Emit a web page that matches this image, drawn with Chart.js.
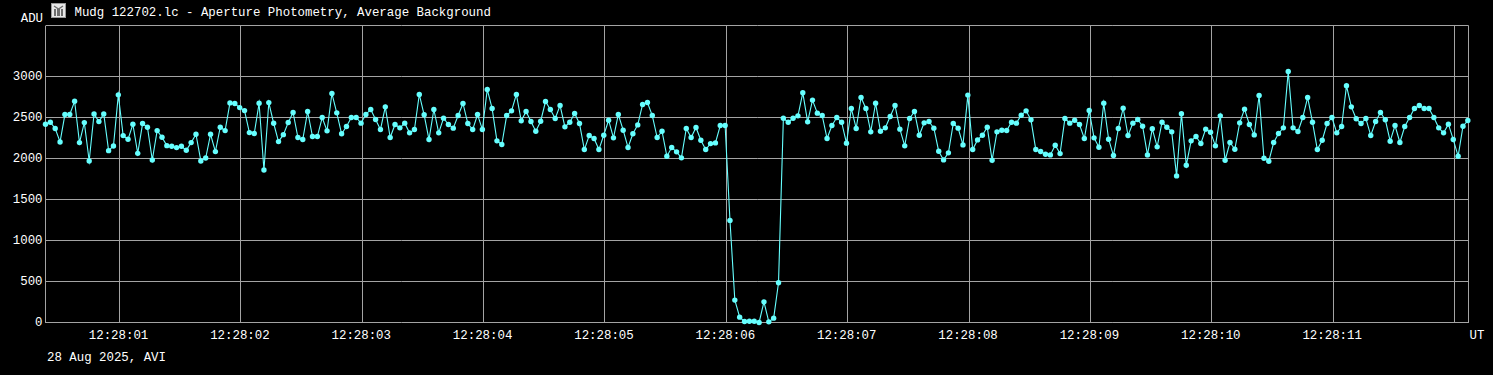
<!DOCTYPE html>
<html>
<head>
<meta charset="utf-8">
<style>html,body{margin:0;padding:0;background:#000;overflow:hidden}canvas{display:block}</style>
<script src="https://cdn.jsdelivr.net/npm/chart.js@4"></script>
</head>
<body>
<canvas id="c" width="1493" height="375"></canvas>
<script>
const titleText = "Mudg 122702.lc - Aperture Photometry, Average Background";
const yUnit = "ADU";
const xUnit = "UT";
const footer = "28 Aug 2025, AVI";
const timePrefix = "12:28:";
const startSecond = 0.39;
const endSecond = 12.1154;
const frameSeconds = 0.04;
const yMax = 3622;
const yTicks = [0, 500, 1000, 1500, 2000, 2500, 3000];
const xTicks = [1, 2, 3, 4, 5, 6, 7, 8, 9, 10, 11, 12];
const xLabelled = [1, 2, 3, 4, 5, 6, 7, 8, 9, 10, 11];
const adu = [
2418,2442,2365,2202,2536,2536,2698,2194,2438,1970,2544,2450,2544,2096,2153,2776,2279,2234,2418,2063,
2426,2381,1982,2340,2259,2157,2149,2133,2149,2100,2194,2295,1970,2006,2295,2084,2381,2340,2678,2670,
2621,2584,2316,2304,2674,1860,2682,2430,2206,2291,2439,2561,2256,2231,2573,2268,2268,2500,2337,2793,
2557,2301,2390,2500,2500,2431,2537,2598,2476,2353,2630,2256,2415,2374,2431,2313,2353,2781,2533,2231,
2598,2313,2492,2415,2370,2524,2671,2427,2353,2537,2353,2842,2610,2215,2170,2524,2581,2781,2459,2573,
2451,2333,2455,2695,2598,2488,2646,2386,2443,2549,2427,2109,2280,2244,2109,2284,2467,2252,2537,2345,
2134,2301,2410,2659,2683,2524,2256,2333,2028,2134,2081,2008,2366,2256,2378,2223,2109,2182,2190,2402,
2402,1245,273,65,12,16,16,0,252,8,53,484,2491,2443,2491,2520,2801,2447,2712,2553,
2524,2244,2402,2500,2443,2187,2610,2366,2744,2610,2325,2675,2333,2374,2512,2646,2358,2154,2488,2573,
2284,2435,2451,2370,2089,1983,2069,2427,2370,2166,2773,2109,2227,2284,2382,1979,2325,2345,2341,2443,
2431,2528,2581,2472,2109,2085,2052,2044,2162,2060,2488,2431,2467,2415,2244,2585,2252,2138,2675,2235,
2036,2366,2614,2280,2431,2476,2394,2044,2362,2142,2443,2382,2325,1788,2545,1918,2215,2268,2183,2358,
2321,2154,2520,1979,2195,2113,2435,2602,2415,2288,2769,2003,1967,2195,2305,2374,3062,2374,2329,2500,
2744,2443,2109,2223,2427,2500,2313,2390,2887,2630,2484,2427,2488,2280,2451,2561,2472,2211,2402,2195,
2390,2500,2610,2646,2610,2610,2500,2374,2313,2419,2231,2028,2394,2463
];

const FONT = '"Liberation Mono", monospace';
const FONT_SIZE = 12.4;
const TEXT = '#ffffff';
const GRID = '#a4a4a4';
const CYAN = '#66ffff';

const pad2 = n => String(n).padStart(2, '0');

const overlay = {
  id: 'overlay',
  afterDraw(chart) {
    const { ctx } = chart;
    ctx.save();
    ctx.fillStyle = TEXT;
    ctx.textBaseline = 'middle';
    ctx.font = FONT_SIZE + 'px ' + FONT;
    ctx.textAlign = 'left';
    ctx.fillText(titleText, 74.5, 12.5);
    ctx.fillText(footer, 47, 357.5);
    ctx.fillText(xUnit, 1469.5, 335.5);
    ctx.textAlign = 'right';
    ctx.fillText(yUnit, 43, 18.5);
    // window icon
    ctx.fillStyle = '#e8e8e8';
    ctx.fillRect(51, 3, 15, 15);
    ctx.strokeStyle = '#9a9a9a';
    ctx.lineWidth = 1;
    ctx.strokeRect(51.5, 3.5, 14, 14);
    ctx.fillStyle = '#6e6e6e';
    ctx.fillRect(54, 9, 2, 7);
    ctx.fillRect(57, 9, 3, 7);
    ctx.fillRect(61, 9, 2, 7);
    ctx.beginPath();
    ctx.moveTo(54, 6); ctx.lineTo(58.5, 9); ctx.lineTo(63, 6);
    ctx.lineWidth = 1.4; ctx.strokeStyle = '#6e6e6e'; ctx.stroke();
    ctx.restore();
  }
};

const canvas = document.getElementById('c');
canvas.getContext('2d', { alpha: false });

new Chart(canvas, {
  type: 'line',
  data: {
    datasets: [{
      data: adu.map((v, i) => ({ x: startSecond + i * frameSeconds, y: v })),
      borderColor: CYAN,
      backgroundColor: CYAN,
      borderWidth: 1.1,
      pointRadius: 2.7,
      pointBorderWidth: 0,
      pointBackgroundColor: CYAN,
      tension: 0,
      fill: false,
      clip: false
    }]
  },
  options: {
    responsive: false,
    animation: false,
    events: [],
    layout: { padding: { left: 0, top: 25.5, right: 24.5, bottom: 0 } },
    plugins: { legend: { display: false }, title: { display: false }, tooltip: { enabled: false } },
    scales: {
      x: {
        type: 'linear',
        min: startSecond,
        max: endSecond,
        afterBuildTicks(s) { s.ticks = [startSecond, ...xTicks, endSecond].map(value => ({ value })); },
        afterFit(s) { s.height = 52.5; },
        grid: { color: GRID, lineWidth: 1, drawTicks: false },
        border: { display: false },
        ticks: {
          autoSkip: false, maxRotation: 0, minRotation: 0, padding: 6, color: TEXT, labelOffset: -1,
          font: { family: FONT, size: FONT_SIZE },
          callback: v => xLabelled.includes(v) ? timePrefix + pad2(v) : ''
        }
      },
      y: {
        type: 'linear',
        min: 0,
        max: yMax,
        afterBuildTicks(s) { s.ticks = [...yTicks, yMax].map(value => ({ value })); },
        afterFit(s) { s.width = 45.5; },
        grid: { color: GRID, lineWidth: 1, drawTicks: false },
        border: { display: false },
        ticks: {
          autoSkip: false, padding: 3, color: TEXT,
          font: { family: FONT, size: FONT_SIZE },
          callback: v => yTicks.includes(v) ? String(v) : ''
        }
      }
    }
  },
  plugins: [overlay]
});
</script>
</body>
</html>
